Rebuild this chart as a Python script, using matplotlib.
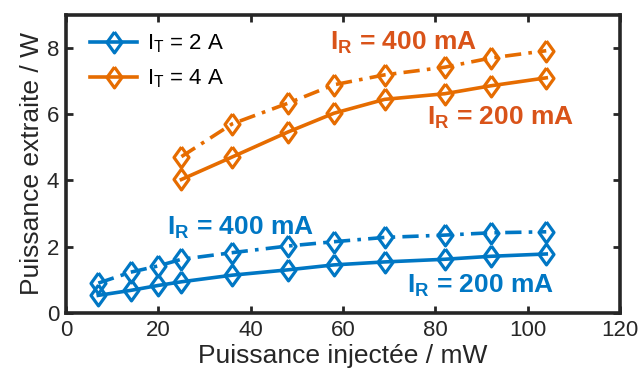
import matplotlib
matplotlib.use('Agg')
import matplotlib.pyplot as plt
import numpy as np

plt.rcParams['font.family'] = ['Liberation Sans', 'DejaVu Sans']
plt.rcParams['mathtext.fontset'] = 'custom'
plt.rcParams['mathtext.rm'] = 'Liberation Sans'
plt.rcParams['mathtext.bf'] = 'Liberation Sans:bold'

# injected power (mW)
x_2A = [7, 14, 20, 25, 36, 48, 58, 69, 82, 92, 104]
x_4A = [25, 36, 48, 58, 69, 82, 92, 104]

# extracted power (W)
p_2A_200 = [0.53, 0.68, 0.83, 0.94, 1.14, 1.30, 1.45, 1.54, 1.62, 1.71, 1.78]
p_2A_400 = [0.90, 1.23, 1.42, 1.62, 1.82, 2.02, 2.15, 2.28, 2.35, 2.42, 2.45]
p_4A_200 = [4.03, 4.71, 5.46, 6.03, 6.45, 6.62, 6.86, 7.10]
p_4A_400 = [4.72, 5.71, 6.33, 6.89, 7.19, 7.42, 7.70, 7.92]

blue = '#0077C4'
orange = '#E66C00'
orange_txt = '#D95319'
dark = '#262626'

fig = plt.figure(figsize=(6.38, 3.83), dpi=100)
ax = fig.add_axes([0.1034, 0.183, 0.8686, 0.778])

diamond = [(0, 1), (0.72, 0), (0, -1), (-0.72, 0), (0, 1)]
mk = dict(marker=diamond, markersize=15, markerfacecolor='none', markeredgewidth=2.3, linewidth=2.6)
dd = (4.5, 2, 1, 2)
ax.plot(x_2A, p_2A_200, '-', color=blue, label='I$_\\mathregular{T}$ = 2 A', **mk)
ax.plot(x_4A, p_4A_200, '-', color=orange, label='I$_\\mathregular{T}$ = 4 A', **mk)
ax.plot(x_2A, p_2A_400, '-.', color=blue, dashes=dd, **mk)
ax.plot(x_4A, p_4A_400, '-.', color=orange, dashes=dd, **mk)

tkw = dict(fontsize=19, fontweight='bold', ha='center', va='baseline')
ax.text(73, 7.95, 'I$_\\mathbf{R}$ = 400 mA', color=orange_txt, **tkw)
ax.text(94, 5.68, 'I$_\\mathbf{R}$ = 200 mA', color=orange_txt, **tkw)
ax.text(37.7, 2.36, 'I$_\\mathbf{R}$ = 400 mA', color=blue, **tkw)
ax.text(89.8, 0.63, 'I$_\\mathbf{R}$ = 200 mA', color=blue, **tkw)

ax.set_xlim(0, 120)
ax.set_ylim(0, 9)
ax.set_xticks(np.arange(0, 121, 20))
ax.set_yticks(np.arange(0, 9, 2))
ax.tick_params(direction='in', top=True, right=True, length=5, width=2,
               labelsize=16, colors=dark, pad=5)
for s in ax.spines.values():
    s.set_linewidth(2.6)
    s.set_color(dark)

ax.set_xlabel('Puissance injectée / mW', fontsize=19, color=dark, labelpad=2)
ax.set_ylabel('Puissance extraite / W', fontsize=19, color=dark, labelpad=2)

ax.legend(loc='upper left', bbox_to_anchor=(0.02, 0.985), frameon=False, fontsize=16,
          handlelength=2.1, borderaxespad=0.2, labelspacing=0.55, handletextpad=0.45)

fig.savefig('out.png', dpi=100)
